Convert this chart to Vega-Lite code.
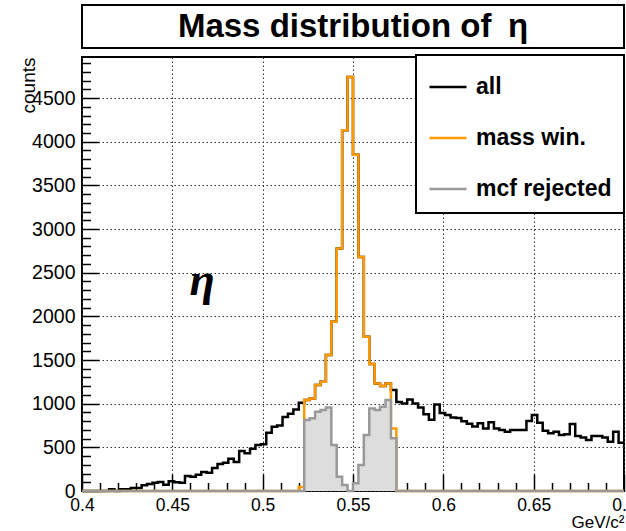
{
  "$schema": "https://vega.github.io/schema/vega-lite/v6.json",
  "autosize": {"type": "pad"},
  "padding": {"left": 18, "top": 4, "right": 0, "bottom": 0},
  "background": "white",
  "spacing": 9,
  "bounds": "flush",
  "config": {
    "font": "Liberation Sans",
    "view": {"stroke": "black", "strokeWidth": 2, "fill": "white"}
  },
  "vconcat": [
    {
      "width": 542,
      "height": 43,
      "data": {"values": [{"t": "Mass distribution of\u2002η"}]},
      "mark": {"type": "text", "font": "Liberation Sans", "fontSize": 33, "fontWeight": "bold", "color": "black", "baseline": "middle"},
      "encoding": {
        "x": {"datum": 0.5, "type": "quantitative", "scale": {"domain": [0, 1]}, "axis": null},
        "y": {"datum": 0.5, "type": "quantitative", "scale": {"domain": [0, 1]}, "axis": null},
        "text": {"field": "t", "type": "nominal"}
      }
    },
    {
      "width": 542,
      "height": 434,
      "data": {
        "values": [
          {"m": 0.400, "a": 0, "w": 0, "r": 0},
          {"m": 0.403, "a": 0, "w": 0, "r": 0},
          {"m": 0.406, "a": 0, "w": 0, "r": 0},
          {"m": 0.409, "a": 0, "w": 0, "r": 0},
          {"m": 0.412, "a": 0, "w": 0, "r": 0},
          {"m": 0.415, "a": 19, "w": 0, "r": 0},
          {"m": 0.418, "a": 0, "w": 0, "r": 0},
          {"m": 0.421, "a": 19, "w": 0, "r": 0},
          {"m": 0.424, "a": 19, "w": 0, "r": 0},
          {"m": 0.427, "a": 34, "w": 0, "r": 0},
          {"m": 0.430, "a": 34, "w": 0, "r": 0},
          {"m": 0.433, "a": 65, "w": 0, "r": 0},
          {"m": 0.436, "a": 80, "w": 0, "r": 0},
          {"m": 0.439, "a": 95, "w": 0, "r": 0},
          {"m": 0.442, "a": 103, "w": 0, "r": 0},
          {"m": 0.445, "a": 72, "w": 0, "r": 0},
          {"m": 0.448, "a": 111, "w": 0, "r": 0},
          {"m": 0.451, "a": 99, "w": 0, "r": 0},
          {"m": 0.454, "a": 95, "w": 0, "r": 0},
          {"m": 0.457, "a": 172, "w": 0, "r": 0},
          {"m": 0.460, "a": 164, "w": 0, "r": 0},
          {"m": 0.463, "a": 187, "w": 0, "r": 0},
          {"m": 0.466, "a": 217, "w": 0, "r": 0},
          {"m": 0.469, "a": 210, "w": 0, "r": 0},
          {"m": 0.472, "a": 263, "w": 0, "r": 0},
          {"m": 0.475, "a": 309, "w": 0, "r": 0},
          {"m": 0.478, "a": 324, "w": 0, "r": 0},
          {"m": 0.481, "a": 370, "w": 0, "r": 0},
          {"m": 0.484, "a": 332, "w": 0, "r": 0},
          {"m": 0.487, "a": 458, "w": 0, "r": 0},
          {"m": 0.490, "a": 431, "w": 0, "r": 0},
          {"m": 0.493, "a": 484, "w": 0, "r": 0},
          {"m": 0.496, "a": 526, "w": 0, "r": 0},
          {"m": 0.499, "a": 534, "w": 0, "r": 0},
          {"m": 0.502, "a": 668, "w": 0, "r": 0},
          {"m": 0.505, "a": 736, "w": 0, "r": 0},
          {"m": 0.508, "a": 751, "w": 0, "r": 0},
          {"m": 0.511, "a": 847, "w": 0, "r": 0},
          {"m": 0.514, "a": 885, "w": 0, "r": 0},
          {"m": 0.517, "a": 934, "w": 0, "r": 0},
          {"m": 0.520, "a": 1011, "w": 45, "r": 0},
          {"m": 0.523, "a": 1041, "w": 1041, "r": 812},
          {"m": 0.526, "a": 1060, "w": 1060, "r": 832},
          {"m": 0.529, "a": 1213, "w": 1213, "r": 908},
          {"m": 0.532, "a": 1251, "w": 1251, "r": 927},
          {"m": 0.535, "a": 1556, "w": 1556, "r": 957},
          {"m": 0.538, "a": 1937, "w": 1937, "r": 526},
          {"m": 0.541, "a": 2777, "w": 2777, "r": 164},
          {"m": 0.544, "a": 4130, "w": 4130, "r": 69},
          {"m": 0.547, "a": 4740, "w": 4740, "r": 0},
          {"m": 0.550, "a": 3852, "w": 3852, "r": 88},
          {"m": 0.553, "a": 2681, "w": 2681, "r": 297},
          {"m": 0.556, "a": 1766, "w": 1766, "r": 641},
          {"m": 0.559, "a": 1453, "w": 1453, "r": 946},
          {"m": 0.562, "a": 1232, "w": 1232, "r": 927},
          {"m": 0.565, "a": 1201, "w": 1201, "r": 965},
          {"m": 0.568, "a": 1232, "w": 1232, "r": 1041},
          {"m": 0.571, "a": 1156, "w": 717, "r": 603},
          {"m": 0.574, "a": 1020, "w": 0, "r": 0},
          {"m": 0.577, "a": 1003, "w": 0, "r": 0},
          {"m": 0.580, "a": 1049, "w": 0, "r": 0},
          {"m": 0.583, "a": 1003, "w": 0, "r": 0},
          {"m": 0.586, "a": 955, "w": 0, "r": 0},
          {"m": 0.589, "a": 880, "w": 0, "r": 0},
          {"m": 0.592, "a": 815, "w": 0, "r": 0},
          {"m": 0.595, "a": 992, "w": 0, "r": 0},
          {"m": 0.598, "a": 892, "w": 0, "r": 0},
          {"m": 0.601, "a": 870, "w": 0, "r": 0},
          {"m": 0.604, "a": 843, "w": 0, "r": 0},
          {"m": 0.607, "a": 835, "w": 0, "r": 0},
          {"m": 0.610, "a": 800, "w": 0, "r": 0},
          {"m": 0.613, "a": 770, "w": 0, "r": 0},
          {"m": 0.616, "a": 740, "w": 0, "r": 0},
          {"m": 0.619, "a": 775, "w": 0, "r": 0},
          {"m": 0.622, "a": 717, "w": 0, "r": 0},
          {"m": 0.625, "a": 786, "w": 0, "r": 0},
          {"m": 0.628, "a": 717, "w": 0, "r": 0},
          {"m": 0.631, "a": 698, "w": 0, "r": 0},
          {"m": 0.634, "a": 679, "w": 0, "r": 0},
          {"m": 0.637, "a": 698, "w": 0, "r": 0},
          {"m": 0.640, "a": 698, "w": 0, "r": 0},
          {"m": 0.643, "a": 698, "w": 0, "r": 0},
          {"m": 0.646, "a": 801, "w": 0, "r": 0},
          {"m": 0.649, "a": 870, "w": 0, "r": 0},
          {"m": 0.652, "a": 782, "w": 0, "r": 0},
          {"m": 0.655, "a": 691, "w": 0, "r": 0},
          {"m": 0.658, "a": 660, "w": 0, "r": 0},
          {"m": 0.661, "a": 679, "w": 0, "r": 0},
          {"m": 0.664, "a": 641, "w": 0, "r": 0},
          {"m": 0.667, "a": 649, "w": 0, "r": 0},
          {"m": 0.670, "a": 767, "w": 0, "r": 0},
          {"m": 0.673, "a": 629, "w": 0, "r": 0},
          {"m": 0.676, "a": 614, "w": 0, "r": 0},
          {"m": 0.679, "a": 584, "w": 0, "r": 0},
          {"m": 0.682, "a": 629, "w": 0, "r": 0},
          {"m": 0.685, "a": 629, "w": 0, "r": 0},
          {"m": 0.688, "a": 614, "w": 0, "r": 0},
          {"m": 0.691, "a": 564, "w": 0, "r": 0},
          {"m": 0.694, "a": 679, "w": 0, "r": 0},
          {"m": 0.697, "a": 553, "w": 0, "r": 0},
          {"m": 0.700, "a": 553, "w": 0, "r": 0}
        ]
      },
      "transform": [{"fold": ["a", "w", "r"], "as": ["h", "n"]}],
      "resolve": {"axis": {"x": "independent", "y": "independent"}},
      "layer": [
        {
          "transform": [{"filter": "datum.h == 'a'"}],
          "mark": {"type": "line", "interpolate": "step-after", "strokeWidth": 2.5},
          "encoding": {
            "x": {
              "field": "m", "type": "quantitative",
              "scale": {"domain": [0.4, 0.7], "nice": false, "zero": false},
              "axis": {
                "orient": "bottom", "values": [0.4, 0.45, 0.5, 0.55, 0.6, 0.65, 0.7], "format": "~g",
                "labelFlush": false, "labelOverlap": false, "labelFontSize": 17.5, "labelColor": "black", "labelPadding": 22,
                "tickSize": -17, "tickColor": "black", "tickWidth": 1.5,
                "grid": true, "gridColor": "#333333", "gridDash": [1.5, 2.5], "gridWidth": 1,
                "domain": false,
                "title": "GeV/c²", "titleFontSize": 17, "titleFontWeight": "normal", "titleColor": "black",
                "titleAnchor": "end", "titlePadding": 1
              }
            },
            "y": {
              "field": "n", "type": "quantitative",
              "scale": {"domain": [0, 4970], "nice": false},
              "axis": {
                "orient": "left", "values": [0, 500, 1000, 1500, 2000, 2500, 3000, 3500, 4000, 4500], "format": "d",
                "labelOverlap": false, "labelFontSize": 19.5, "labelColor": "black", "labelPadding": 24,
                "tickSize": -17, "tickColor": "black", "tickWidth": 1.5,
                "grid": true, "gridColor": "#333333", "gridDash": [1.5, 2.5], "gridWidth": 1,
                "domain": false,
                "title": "counts", "titleFontSize": 19, "titleFontWeight": "normal", "titleColor": "black",
                "titleAnchor": "end", "titlePadding": -7
              }
            },
            "color": {
              "field": "h", "type": "nominal",
              "scale": {"domain": ["a", "w", "r"], "range": ["#000000", "#ff9900", "#999999"]},
              "legend": {
                "orient": "none", "legendX": 334, "legendY": 50, "title": null,
                "labelExpr": "datum.label == 'a' ? 'all' : datum.label == 'w' ? 'mass win.' : 'mcf rejected'",
                "strokeColor": "black", "fillColor": "white", "padding": 12, "rowPadding": 19,
                "symbolType": "stroke", "symbolSize": 1369, "symbolStrokeWidth": 2.5,
                "labelFont": "Liberation Sans", "labelFontWeight": "bold", "labelFontSize": 23, "labelColor": "black",
                "labelOffset": 8, "labelLimit": 400,
                "encode": {"legend": {"update": {"strokeWidth": {"value": 2}}}}
              }
            }
          }
        },
        {
          "transform": [{"filter": "datum.h == 'w'"}],
          "mark": {"type": "line", "interpolate": "step-after", "strokeWidth": 2.5},
          "encoding": {
            "x": {"field": "m", "type": "quantitative", "axis": null},
            "y": {"field": "n", "type": "quantitative", "axis": null},
            "color": {"field": "h", "type": "nominal"}
          }
        },
        {
          "transform": [{"filter": "datum.h == 'r'"}],
          "mark": {"type": "area", "interpolate": "step-after", "fill": "#dddddd", "opacity": 1},
          "encoding": {
            "x": {"field": "m", "type": "quantitative", "axis": null},
            "y": {"field": "n", "type": "quantitative", "axis": null}
          }
        },
        {
          "transform": [{"filter": "datum.h == 'r'"}],
          "mark": {"type": "line", "interpolate": "step-after", "strokeWidth": 2.5},
          "encoding": {
            "x": {
              "field": "m", "type": "quantitative",
              "axis": {
                "orient": "bottom",
                "values": [0.41, 0.42, 0.43, 0.44, 0.46, 0.47, 0.48, 0.49, 0.51, 0.52, 0.53, 0.54, 0.56, 0.57, 0.58, 0.59, 0.61, 0.62, 0.63, 0.64, 0.66, 0.67, 0.68, 0.69],
                "labels": false, "grid": false, "domain": false, "title": null,
                "tickSize": -8.5, "tickColor": "black", "tickWidth": 1.5
              }
            },
            "y": {
              "field": "n", "type": "quantitative",
              "axis": {
                "orient": "left",
                "values": [100, 200, 300, 400, 600, 700, 800, 900, 1100, 1200, 1300, 1400, 1600, 1700, 1800, 1900, 2100, 2200, 2300, 2400, 2600, 2700, 2800, 2900, 3100, 3200, 3300, 3400, 3600, 3700, 3800, 3900, 4100, 4200, 4300, 4400, 4600, 4700, 4800, 4900],
                "labels": false, "grid": false, "domain": false, "title": null,
                "tickSize": -8.5, "tickColor": "black", "tickWidth": 1.5
              }
            },
            "color": {"field": "h", "type": "nominal"}
          }
        },
        {
          "data": {"values": [{"s": "η"}]},
          "mark": {"type": "text", "font": "Liberation Serif", "fontStyle": "italic", "fontWeight": "bold", "fontSize": 46, "color": "black", "baseline": "middle"},
          "encoding": {
            "x": {"datum": 0.4665, "type": "quantitative", "axis": null},
            "y": {"datum": 2400, "type": "quantitative", "axis": null},
            "text": {"field": "s", "type": "nominal"}
          }
        }
      ]
    }
  ]
}
